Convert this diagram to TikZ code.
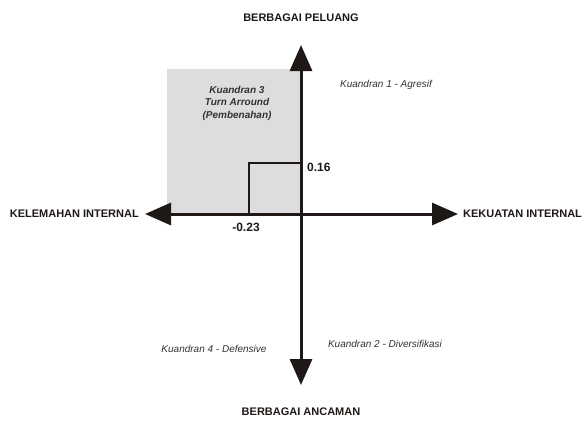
\documentclass[tikz,border=0pt]{standalone}
\usepackage{fontspec}
\setmainfont{Liberation Sans}
\usetikzlibrary{arrows.meta}
\definecolor{QuadGrey}{RGB}{221,221,223}
\definecolor{AxisBlack}{RGB}{30,24,22}
\definecolor{NoteGrey}{RGB}{50,50,50}

\begin{document}
\begin{tikzpicture}[x=1pt,y=-1pt,
   axis/.style={AxisBlack,line width=3pt,{Triangle[length=26pt,width=22pt]}-{Triangle[length=26pt,width=22pt]}},
   side/.style={font=\fontsize{11}{13}\selectfont\bfseries,text=AxisBlack,inner sep=0pt},
   num/.style={side,font=\fontsize{12}{14}\selectfont\bfseries},
   quad/.style={font=\fontsize{10}{12.5}\selectfont\itshape,text=NoteGrey,inner sep=0pt,align=center}]
\useasboundingbox (0,0) rectangle (585,421);
% kuadran 3
\fill[QuadGrey] (167,69) rectangle (301,214);
\draw[AxisBlack,line width=1.6pt] (249,214) -- (249,163) -- (301,163);
% sumbu
\coordinate (O) at (301,214);
\coordinate (N) at (301,45);
\coordinate (S) at (301,385);
\coordinate (W) at (145,214);
\coordinate (E) at (458,214);
\draw[axis] (W) -- (E);
\draw[axis] (N) -- (S);
% label sumbu
\node[side] (peluang) at (301,18) {BERBAGAI PELUANG};
\node[side] (ancaman) at (301,412) {BERBAGAI ANCAMAN};
\node[side,anchor=east] (kelemahan) at (139,214) {KELEMAHAN INTERNAL};
\node[side,anchor=west] (kekuatan) at (463,214) {KEKUATAN INTERNAL};
\node[num,anchor=west] (yval) at (307,167) {0.16};
\node[num] (xval) at (246,227) {-0.23};
% kuadran
\node[quad] (k1) at (386,85) {Kuandran 1 - Agresif};
\node[quad,font=\fontsize{10}{12.5}\selectfont\bfseries\itshape] (k3) at (237,103) {Kuandran 3\\Turn Arround\\(Pembenahan)};
\node[quad] (k4) at (214,349) {Kuandran 4 - Defensive};
\node[quad] (k2) at (385,344) {Kuandran 2 - Diversifikasi};
\end{tikzpicture}
\end{document}
